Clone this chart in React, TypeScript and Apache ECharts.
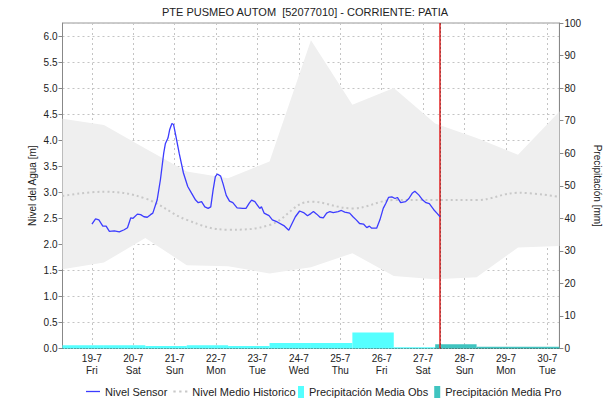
import React, { useEffect, useRef } from "react";
import * as echarts from "echarts";

const TITLE = "PTE PUSMEO AUTOM  [52077010] - CORRIENTE: PATIA";

// x values are day-of-July (e.g. 19.5 = 19-7 12:00)
const xMin = 18.2917;
const xMax = 30.2917;
const nowDay = 27.41;

const tickDays = [19, 20, 21, 22, 23, 24, 25, 26, 27, 28, 29, 30];
const tickWeekdays = ["Fri", "Sat", "Sun", "Mon", "Tue", "Wed", "Thu", "Fri", "Sat", "Sun", "Mon", "Tue"];

// historic band (daily at 07:00)
const bandDays = [18.2917, 19.2917, 20.2917, 21.2917, 22.2917, 23.2917, 24.2917, 25.2917, 26.2917, 27.2917, 28.2917, 29.2917, 30.2917];
const bandUpper = [4.41, 4.29, 3.84, 3.4, 3.27, 3.59, 5.92, 4.68, 5.0, 4.32, 4.04, 3.72, 4.55];
const bandLower = [1.52, 1.65, 2.12, 1.6, 1.58, 1.44, 1.56, 1.83, 1.39, 1.33, 1.37, 1.94, 1.97];
const meanLevel = [2.93, 3.01, 2.88, 2.47, 2.28, 2.37, 2.82, 2.69, 2.85, 2.85, 2.85, 2.99, 2.91];

// sensor level
const sensorDays = [
  19.003, 19.09, 19.17, 19.265, 19.345, 19.424, 19.543, 19.663, 19.782, 19.861, 19.941, 19.996,
  20.1, 20.179, 20.259, 20.339, 20.418, 20.473, 20.577, 20.656, 20.736, 20.775, 20.839, 20.879,
  20.934, 20.974, 21.03, 21.109, 21.212, 21.316, 21.411, 21.506, 21.57, 21.65, 21.729, 21.809,
  21.872, 21.928, 21.983, 22.031, 22.111, 22.166, 22.246, 22.325, 22.405, 22.508, 22.643, 22.723,
  22.802, 22.858, 22.937, 23.001, 23.056, 23.096, 23.16, 23.279, 23.359, 23.478, 23.636, 23.756,
  23.835, 23.915, 24.018, 24.113, 24.209, 24.288, 24.352, 24.431, 24.511, 24.59, 24.67, 24.749,
  24.829, 24.948, 25.027, 25.107, 25.226, 25.306, 25.385, 25.465, 25.56, 25.639, 25.703, 25.759,
  25.878, 25.957, 26.037, 26.101, 26.164, 26.244, 26.323, 26.379, 26.458, 26.577, 26.657, 26.736,
  26.8, 26.895, 26.991, 27.07, 27.15, 27.253, 27.332, 27.41,
];
const sensorLevel = [
  2.39, 2.49, 2.47, 2.35, 2.35, 2.25, 2.26, 2.24, 2.28, 2.32, 2.51, 2.5,
  2.58, 2.57, 2.53, 2.52, 2.57, 2.6, 2.85, 3.24, 3.75, 3.93, 4.04, 4.2,
  4.32, 4.3, 4.08, 3.75, 3.37, 3.11, 2.98, 2.85, 2.8, 2.82, 2.72, 2.69,
  2.72, 3.04, 3.3, 3.35, 3.31, 3.17, 2.94, 2.83, 2.8, 2.7, 2.69, 2.69,
  2.79, 2.85, 2.82, 2.75, 2.69, 2.72, 2.6, 2.55, 2.47, 2.43, 2.36, 2.27,
  2.4, 2.53, 2.64, 2.61, 2.55, 2.59, 2.63, 2.58, 2.52, 2.51, 2.6, 2.63,
  2.61, 2.63, 2.65, 2.62, 2.6, 2.53, 2.47, 2.4, 2.39, 2.32, 2.35, 2.31,
  2.31, 2.47, 2.69, 2.79, 2.9, 2.91, 2.88, 2.9, 2.8, 2.82, 2.88, 2.98,
  3.02, 2.95, 2.85, 2.8, 2.78, 2.67, 2.6, 2.53,
];

// precipitation, daily bins starting at 07:00
const obsStartDays = [18.2917, 19.2917, 20.2917, 21.2917, 22.2917, 23.2917, 24.2917, 25.2917, 26.2917];
const obsPrecip = [1.0, 1.0, 0.8, 1.0, 0.8, 1.7, 1.7, 4.9, 0.4];
const proStartDays = [27.2917, 28.2917, 29.2917];
const proPrecip = [1.3, 0.5, 0.5];

const FONT = "'Liberation Sans', Arial, sans-serif";

export default function App() {
  const ref = useRef<HTMLDivElement>(null);
  useEffect(() => {
    document.body.style.margin = "0";
    const chart = echarts.init(ref.current!, undefined, { renderer: "svg" });

    const bandPolyRender = (params: any, api: any) => {
      if (params.dataIndex !== 0) return null;
      const pts: number[][] = [];
      bandDays.forEach((d, i) => pts.push(api.coord([d, bandUpper[i]])));
      for (let i = bandDays.length - 1; i >= 0; i--) pts.push(api.coord([bandDays[i], bandLower[i]]));
      return { type: "polygon", shape: { points: pts }, style: { fill: "#efefef" } };
    };
    const rectRender = (color: string) => (params: any, api: any) => {
      const s = api.value(0), e = api.value(1), v = api.value(2);
      const p0 = api.coord([s, v]);
      const p1 = api.coord([e, 0]);
      return {
        type: "rect",
        shape: { x: p0[0], y: p0[1], width: p1[0] - p0[0], height: p1[1] - p0[1] },
        style: { fill: color },
      };
    };

    const legendText = { fontSize: 11, color: "#222", fontFamily: FONT };

    chart.setOption({
      animation: false,
      textStyle: { fontFamily: FONT },
      title: {
        text: TITLE,
        left: "center",
        top: 6,
        padding: 0,
        textStyle: { fontSize: 11, fontWeight: "normal", color: "#222", fontFamily: FONT },
      },
      grid: { left: 62.5, right: 44, top: 23, bottom: 55.5, show: true, borderColor: "#999", borderWidth: 1, backgroundColor: "transparent" },
      legend: [
        {
          left: 86,
          top: 386,
          padding: 0,
          itemWidth: 14,
          itemHeight: 12,
          itemGap: 6,
          textStyle: legendText,
          data: [
            { name: "Nivel Sensor", icon: "path://M0,0H14V1.3H0Z" },
            { name: "Nivel Medio Historico", icon: "path://M0,0H2V1.6H0Z M5,0H7V1.6H5Z M10,0H12V1.6H10Z" },
          ],
        },
        {
          left: 298,
          top: 386,
          padding: 0,
          itemWidth: 6,
          itemHeight: 12,
          itemGap: 6,
          textStyle: legendText,
          data: [
            { name: "Precipitación Media Obs", icon: "rect" },
            { name: "Precipitación Media Pro", icon: "rect" },
          ],
        },
      ],
      xAxis: {
        type: "value",
        min: xMin,
        max: xMax,
        axisLine: { show: true, lineStyle: { color: "#444", type: [1, 2], width: 1 } },
        axisTick: { show: false, customValues: tickDays },
        axisLabel: {
          customValues: tickDays,
          fontSize: 10,
          color: "#222",
          lineHeight: 12,
          margin: 4,
          formatter: (v: number) => {
            const i = tickDays.indexOf(Math.round(v));
            return `${Math.round(v)}-7\n${tickWeekdays[i] ?? ""}`;
          },
        },
        splitLine: { show: true, lineStyle: { color: "#c4c4c4", type: [2, 3], width: 1 } },
      },
      yAxis: [
        {
          type: "value",
          min: 0,
          max: 6.25,
          interval: 0.5,
          name: "Nivel del Agua [m]",
          nameLocation: "middle",
          nameGap: 25,
          nameRotate: 90,
          nameMoveOverlap: false,
          nameTextStyle: { fontSize: 10, color: "#222" },
          axisLine: { show: true, lineStyle: { color: "#888" } },
          axisTick: { show: true, length: 4, lineStyle: { color: "#888" } },
          axisLabel: { fontSize: 10, color: "#222", margin: 5, showMaxLabel: false, formatter: (v: number) => v.toFixed(1) },
          splitLine: { show: true, lineStyle: { color: "#c4c4c4", type: [2, 3], width: 1 } },
        },
        {
          type: "value",
          min: 0,
          max: 100,
          interval: 10,
          position: "right",
          name: "Precipitación [mm]",
          nameLocation: "middle",
          nameGap: 26,
          nameRotate: -90,
          nameTextStyle: { fontSize: 10, color: "#222" },
          axisLine: { show: true, lineStyle: { color: "#888" } },
          axisTick: { show: true, length: 4, lineStyle: { color: "#888" } },
          axisLabel: { fontSize: 10, color: "#222", margin: 5 },
          splitLine: { show: false },
        },
      ],
      series: [
        {
          name: "band",
          type: "custom",
          renderItem: bandPolyRender,
          data: [[bandDays[0], bandLower[0]]],
          encode: { x: 0, y: 1 },
          z: 1,
          silent: true,
        },
        {
          name: "Precipitación Media Obs",
          type: "custom",
          yAxisIndex: 1,
          renderItem: rectRender("#55ffff"),
          itemStyle: { color: "#55ffff" },
          data: obsStartDays.map((d, i) => [d, d + 1, obsPrecip[i]]),
          encode: { x: [0, 1], y: 2 },
          z: 3,
        },
        {
          name: "Precipitación Media Pro",
          type: "custom",
          yAxisIndex: 1,
          renderItem: rectRender("#40c4c0"),
          itemStyle: { color: "#40c4c0" },
          data: proStartDays.map((d, i) => [d, d + 1, proPrecip[i]]),
          encode: { x: [0, 1], y: 2 },
          z: 3,
        },
        {
          name: "Nivel Medio Historico",
          type: "line",
          smooth: 0.4,
          symbol: "none",
          data: bandDays.map((d, i) => [d, meanLevel[i]]),
          lineStyle: { color: "#c8c8c8", width: 2, type: [2, 3] },
          itemStyle: { color: "#c8c8c8" },
          z: 4,
          markLine: {
            silent: true,
            symbol: "none",
            label: { show: false },
            lineStyle: { color: "#e02020", width: 1.5, type: "solid" },
            data: [{ xAxis: nowDay }],
          },
        },
        {
          name: "Nivel Sensor",
          type: "line",
          symbol: "none",
          data: sensorDays.map((d, i) => [d, sensorLevel[i]]),
          lineStyle: { color: "#3c3cff", width: 1.3 },
          itemStyle: { color: "#3c3cff" },
          z: 5,
          markLine: {
            silent: true,
            symbol: "none",
            label: { show: false },
            lineStyle: { color: "#702020", width: 1, type: [1, 3] },
            data: [{ xAxis: nowDay }],
          },
        },
      ],
    });
    return () => chart.dispose();
  }, []);
  return <div ref={ref} style={{ width: 610, height: 404 }} />;
}
